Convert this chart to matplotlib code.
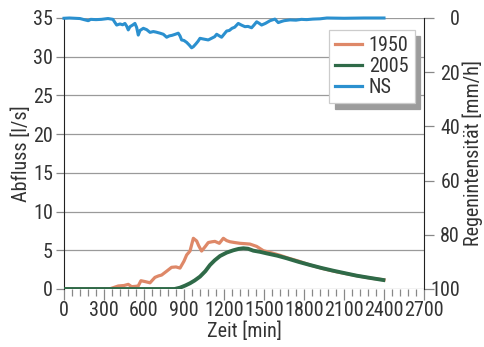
import matplotlib
matplotlib.use('Agg')
import matplotlib.pyplot as plt
from matplotlib import font_manager
from matplotlib.ticker import MultipleLocator

# Abfluss 1950 [l/s]
t_1950 = [0, 340, 407, 450, 482, 507, 540, 557, 577, 610, 645, 682, 710, 732, 770, 807, 840,
          870, 900, 920, 945, 970, 995, 1010, 1032, 1060, 1082, 1110, 1132, 1165, 1195, 1220,
          1245, 1280, 1320, 1360, 1395, 1445, 1495, 1560, 1620, 1680, 1760, 1845, 1950, 2050,
          2200, 2300, 2400]
q_1950 = [0.0, 0.0, 0.39, 0.45, 0.6, 0.3, 0.35, 0.4, 1.07, 0.95, 0.8, 1.5, 1.7, 1.8, 2.3, 2.8,
          2.85, 2.7, 3.6, 4.4, 4.9, 6.55, 6.2, 5.6, 4.9, 5.5, 6.0, 6.1, 6.15, 5.9, 6.55, 6.25,
          6.1, 6.0, 5.9, 5.85, 5.8, 5.5, 4.95, 4.65, 4.35, 4.0, 3.6, 3.1, 2.6, 2.2, 1.7, 1.4, 1.18]

# Abfluss 2005 [l/s]
t_2005 = [0, 830, 870, 910, 945, 980, 1020, 1060, 1095, 1130, 1170, 1220, 1270, 1310, 1345,
          1380, 1420, 1470, 1520, 1600, 1670, 1760, 1845, 1930, 2020, 2110, 2195, 2300, 2395]
q_2005 = [0.0, 0.0, 0.17, 0.45, 0.74, 1.1, 1.6, 2.3, 3.1, 3.7, 4.26, 4.7, 5.0, 5.18, 5.26,
          5.2, 4.95, 4.8, 4.6, 4.3, 3.97, 3.5, 3.1, 2.72, 2.36, 2.03, 1.72, 1.42, 1.16]

# Niederschlag NS [mm/h]
t_ns = [0, 40, 80, 120, 150, 182, 200, 240, 280, 330, 367, 380, 395, 420, 440, 457, 470, 482,
        495, 515, 532, 545, 557, 570, 595, 620, 645, 670, 690, 720, 745, 770, 790, 810, 835,
        857, 870, 882, 900, 920, 940, 957, 970, 990, 1005, 1020, 1050, 1082, 1110, 1130, 1145,
        1165, 1182, 1200, 1220, 1240, 1260, 1280, 1307, 1330, 1357, 1380, 1407, 1425, 1445,
        1465, 1482, 1510, 1545, 1582, 1607, 1630, 1650, 1695, 1740, 1780, 1820, 1867, 1920,
        1972, 2100, 2250, 2400]
ns = [0.1, 0.0, 0.1, 0.2, 0.6, 1.0, 0.5, 0.6, 0.5, 0.2, 0.5, 1.5, 2.6, 2.2, 2.5, 2.0, 3.0, 4.4,
      3.2, 2.6, 2.0, 3.5, 6.3, 4.6, 3.8, 4.3, 5.3, 5.0, 5.2, 5.6, 6.0, 7.1, 6.6, 6.4, 6.0,
      5.6, 6.6, 8.1, 8.3, 9.0, 10.0, 11.0, 10.6, 9.5, 8.6, 7.5, 7.8, 8.1, 7.4, 6.9, 6.0,
      6.6, 7.1, 6.0, 4.8, 4.6, 3.8, 3.4, 2.0, 2.6, 3.2, 3.1, 3.6, 2.6, 1.4, 2.0, 2.6, 2.0,
      1.0, 0.4, 1.7, 1.3, 1.0, 0.7, 0.8, 0.5, 0.6, 0.4, 0.3,
      0.0, 0.1, 0.0, 0.0]

c_1950 = '#DE8868'
c_2005 = '#2F6A48'
c_ns = '#2B90CF'
txt = '#333333'

# condensed font like the original, if one is installed
have = {f.name for f in font_manager.fontManager.ttflist}
family = 'DejaVu Sans'
fs = 11
for name in ['Roboto Condensed', 'Univers Condensed', 'Archivo Narrow', 'PT Sans Narrow',
             'Liberation Sans Narrow', 'Arial Narrow', 'Fira Sans Condensed',
             'IBM Plex Sans Condensed', 'Barlow Semi Condensed', 'Open Sans Condensed',
             'Encode Sans Condensed', 'Asap Condensed']:
    if name in have:
        family = name
        fs = 14.5
        break
plt.rcParams['font.family'] = [family, 'DejaVu Sans']
plt.rcParams['font.size'] = fs

fig = plt.figure(figsize=(4.84, 3.47), dpi=100)
ax = fig.add_axes([64 / 484, 1 - 289 / 347, 360 / 484, 271 / 347])
ax2 = ax.twinx()

ax.set_xlim(0, 2700)
ax.set_ylim(0, 35)
ax.yaxis.set_major_locator(MultipleLocator(5))
ax.xaxis.set_major_locator(MultipleLocator(300))
ax.xaxis.set_minor_locator(MultipleLocator(60))
ax.grid(axis='y', color='#9a9a9a', lw=0.9)
ax.set_axisbelow(True)

l1, = ax.plot(t_1950, q_1950, color=c_1950, lw=2.3, label='1950', zorder=3)
l2, = ax.plot(t_2005, q_2005, color=c_2005, lw=2.8, label='2005', zorder=4)
l3, = ax2.plot(t_ns, ns, color=c_ns, lw=2.2, label='NS', zorder=3, clip_on=False)

ax2.set_ylim(100, 0)
ax2.yaxis.set_major_locator(MultipleLocator(20))

for a in (ax, ax2):
    a.spines['top'].set_visible(False)
    a.spines['bottom'].set_visible(False)
    a.tick_params(colors='#888888', labelcolor=txt, labelsize=fs, width=0.9)
ax.spines['left'].set_color('#222222')
ax.spines['right'].set_visible(False)
ax2.spines['left'].set_visible(False)
ax2.spines['right'].set_color('#222222')
ax.tick_params(axis='y', length=6, pad=2)
ax.tick_params(axis='x', which='major', length=8, pad=1)
ax.tick_params(axis='x', which='minor', length=5, color='#888888', width=0.9)
# right axis labels are right-aligned in the original
ax2.tick_params(axis='y', length=7, pad=19)
for lbl in ax2.get_yticklabels():
    lbl.set_horizontalalignment('right')

ax.set_xlabel('Zeit [min]', color=txt, fontsize=fs, labelpad=1)
ax.set_ylabel('Abfluss [l/s]', color=txt, fontsize=fs, labelpad=1)
ax2.set_ylabel('Regenintensität [mm/h]', color=txt, fontsize=fs, labelpad=2)

leg = ax2.legend(handles=[l1, l2, l3], loc='upper left', bbox_to_anchor=(0.736, 0.956),
                 borderaxespad=0, frameon=True, fancybox=False,
                 shadow={'color': '#9c9c9c', 'alpha': 1, 'ox': 4, 'oy': -4.5},
                 handlelength=1.3, handletextpad=0.35, labelspacing=0.08, borderpad=0.32,
                 fontsize=fs, labelcolor=txt)
leg.get_frame().set_edgecolor('#cccccc')
leg.get_frame().set_linewidth(0.9)
for h in leg.get_lines():
    h.set_linewidth(2.3)

fig.text(0.052, -0.035, 'c', fontsize=16, fontweight='bold', color='#222222')

fig.savefig('out.png', dpi=100)
